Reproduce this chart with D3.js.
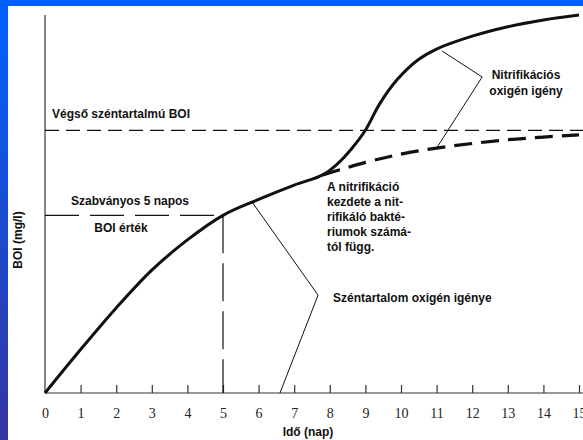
<!DOCTYPE html>
<html>
<head>
<meta charset="utf-8">
<script src="https://cdn.jsdelivr.net/npm/d3@7"></script>
<style>
body { margin: 0; }
#chart svg { display: block; }
</style>
</head>
<body>
<div id="chart"></div>
<script>
var width = 583,
height = 440;

// values (BOI in relative units, top of axis = 100)
var mainDays = [0, 1, 2, 3, 4, 5, 6, 7, 7.8];
var mainBoi = [0, 11.5, 22.5, 32.5, 40.5, 47, 51.2, 55, 57.7];

var nitrDays = [8.2, 8.6, 9, 9.4, 9.9, 10.5, 11, 12, 13, 14, 15];
var nitrBoi = [60.5, 64.5, 69.5, 76.5, 83, 88.3, 91, 94.4, 96.9, 98.7, 100];

var carbDays = [7.8, 9, 10, 11, 12, 13, 14, 15];
var carbBoi = [57.7, 61, 63.2, 64.8, 66, 67, 67.7, 68.3];

var ultimateBoi = 69.5;
var stdDay = 5, stdBoi = 47;

var tickDays = [0, 1, 2, 3, 4, 5, 6, 7, 8, 9, 10, 11, 12, 13, 14, 15];

var x = d3.scaleLinear().domain([0, 15]).range([45, 579]);
var y = d3.scaleLinear().domain([0, 100]).range([393, 15]);

var svg = d3.select("#chart").append("svg")
.attr("width", width)
.attr("height", height);

// slide background
var grad = svg.append("defs").append("linearGradient")
.attr("id", "bg")
.attr("x1", 0).attr("y1", 0).attr("x2", 0).attr("y2", 1);
grad.append("stop").attr("offset", "0%").attr("stop-color", "#0062ff");
grad.append("stop").attr("offset", "100%").attr("stop-color", "#3535a2");

svg.append("rect")
.attr("width", width).attr("height", height)
.style("fill", "url(#bg)");
svg.append("rect")
.attr("x", 8).attr("y", 6)
.attr("width", width - 8).attr("height", height - 6)
.style("fill", "#ffffff");

var ink = "#111";
var sans = "'Liberation Sans', Arial, sans-serif";

// axes
svg.append("line")
.attr("x1", x(0)).attr("x2", x(0))
.attr("y1", y(100)).attr("y2", y(0))
.style("stroke", "#333").style("stroke-width", 1.2);

var xAxis = d3.axisBottom(x)
.tickValues(tickDays)
.tickSize(-8)
.tickPadding(15)
.tickFormat(d3.format("d"));

var gx = svg.append("g")
.attr("transform", "translate(0," + y(0) + ")")
.call(xAxis);
gx.select(".domain").attr("d", "M" + x(0) + ",0H" + (width + 2))
.style("stroke", "#333").style("stroke-width", 1.2);
gx.selectAll(".tick line").style("stroke", "#333").style("stroke-width", 1.2);
gx.selectAll(".tick").filter(function(d) { return d === 0; }).select("line").remove();
gx.selectAll(".tick text")
.style("font", "14px 'Liberation Serif', 'Times New Roman', serif")
.style("fill", "#222");

svg.append("text")
.attr("x", 308).attr("y", 436)
.attr("text-anchor", "middle")
.style("font", "bold 12px " + sans)
.style("fill", ink)
.text("Idő (nap)");

svg.append("text")
.attr("transform", "translate(22,240) rotate(-90)")
.attr("text-anchor", "middle")
.style("font", "bold 12px " + sans)
.style("fill", ink)
.text("BOI (mg/l)");

// reference lines
svg.append("line")
.attr("x1", x(0)).attr("x2", width)
.attr("y1", y(ultimateBoi)).attr("y2", y(ultimateBoi))
.style("stroke", ink).style("stroke-width", 1.2)
.style("stroke-dasharray", "14,7");

svg.append("line")
.attr("x1", x(0)).attr("x2", x(stdDay))
.attr("y1", y(stdBoi)).attr("y2", y(stdBoi))
.style("stroke", ink).style("stroke-width", 1.2)
.style("stroke-dasharray", "34,11");

svg.append("line")
.attr("x1", x(stdDay)).attr("x2", x(stdDay))
.attr("y1", y(stdBoi)).attr("y2", y(0))
.style("stroke", ink).style("stroke-width", 1.2)
.style("stroke-dasharray", "38,10");

// curves
var line = d3.line()
.x(function(d) { return x(d[0]); })
.y(function(d) { return y(d[1]); })
.curve(d3.curveCatmullRom.alpha(0.5));

var solid = d3.zip(mainDays.concat(nitrDays), mainBoi.concat(nitrBoi));
var carb = d3.zip(carbDays, carbBoi);

svg.append("path")
.datum(carb)
.attr("d", line)
.style("fill", "none")
.style("stroke", ink)
.style("stroke-width", 3.2)
.style("stroke-dasharray", "18,9");

svg.append("path")
.datum(solid)
.attr("d", line)
.style("fill", "none")
.style("stroke", ink)
.style("stroke-width", 3);

// leader lines
var leader = d3.line()
.x(function(d) { return x(d[0]); })
.y(function(d) { return y(d[1]); });

svg.append("path")
.datum([[11.15, 90.5], [12.28, 83.6], [11, 64.8]])
.attr("d", leader)
.style("fill", "none").style("stroke", ink).style("stroke-width", 1);

svg.append("path")
.datum([[5.81, 50.6], [7.67, 25.9], [6.6, 0]])
.attr("d", leader)
.style("fill", "none").style("stroke", ink).style("stroke-width", 1);

// labels
function label(txt, px, py, anchor) {
  svg.append("text")
  .attr("x", px).attr("y", py)
  .attr("text-anchor", anchor || "start")
  .style("font", "bold 12px " + sans)
  .style("fill", ink)
  .text(txt);
}

label("Végső széntartalmú BOI", 52, 118);
label("Szabványos 5 napos", 130, 205, "middle");
label("BOI érték", 121, 232, "middle");
label("Széntartalom oxigén igénye", 333, 302);
label("Nitrifikációs", 526, 79, "middle");
label("oxigén igény", 526, 95, "middle");

var nitrNote = ["A nitrifikáció", "kezdete a nit-", "rifikáló bakté-", "riumok számá-", "tól függ."];
nitrNote.forEach(function(t, i) {
  label(t, 327, 191 + i * 15);
});
</script>
</body>
</html>
